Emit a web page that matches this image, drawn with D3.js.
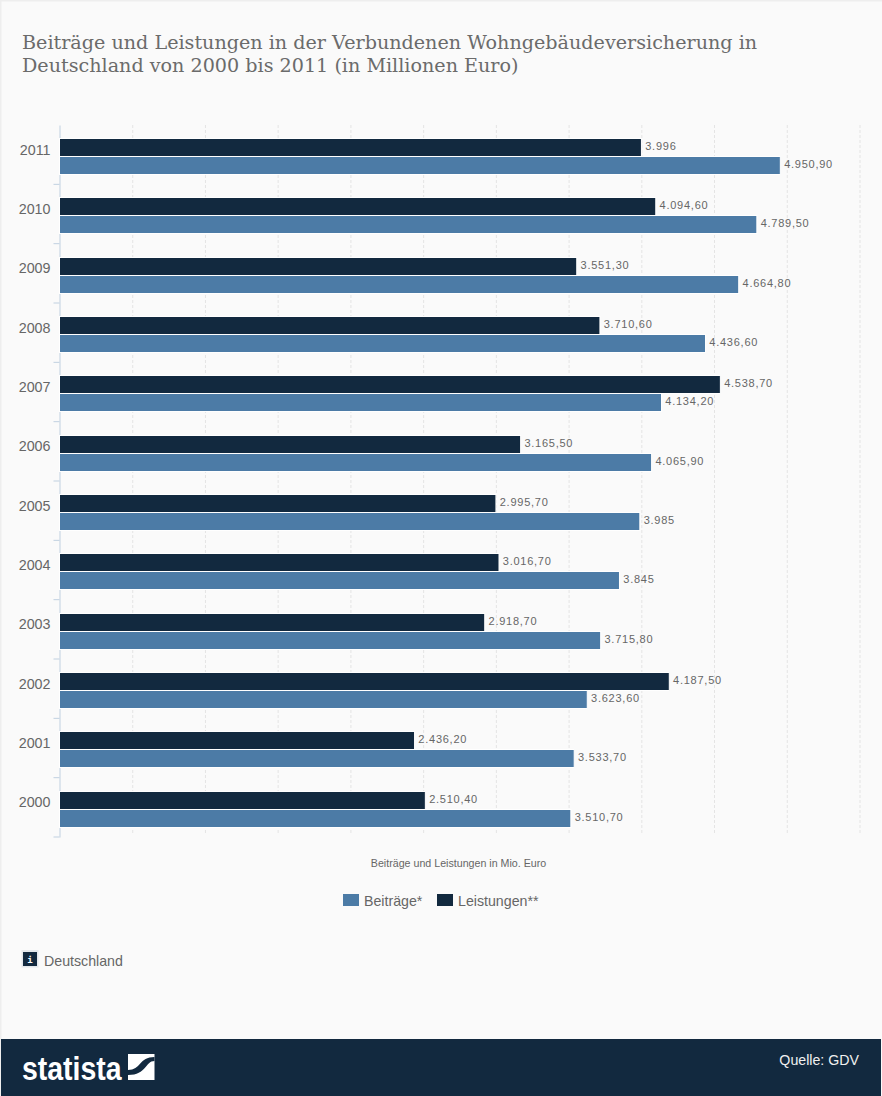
<!DOCTYPE html>
<html>
<head>
<meta charset="utf-8">
<script src="https://cdn.jsdelivr.net/npm/d3@7"></script>
<style>
  html, body { margin: 0; padding: 0; background: #fafafa; }
  svg { display: block; }
</style>
</head>
<body>
<div id="chart"></div>
<script>
const years = ["2011","2010","2009","2008","2007","2006","2005","2004","2003","2002","2001","2000"];
const leistungen = [3996,4094.6,3551.3,3710.6,4538.7,3165.5,2995.7,3016.7,2918.7,4187.5,2436.2,2510.4];
const beitraege = [4950.9,4789.5,4664.8,4436.6,4134.2,4065.9,3985,3845,3715.8,3623.6,3533.7,3510.7];
const seriesNames = ["Leistungen","Beiträge"];
const legendNames = ["Beiträge*","Leistungen**"];
const titleLines = ["Beiträge und Leistungen in der Verbundenen Wohngebäudeversicherung in","Deutschland von 2000 bis 2011 (in Millionen Euro)"];
const gridTicks = [500,1000,1500,2000,2500,3000,3500,4000,4500,5000,5500];

const width = 882, height = 1096;
const margin = {top: 125, left: 59.5, right: 22.5, bottom: 259};
const navy = "#12293f", blue = "#4c7ba6", grey = "#666";
const sans = "'Liberation Sans', Arial, sans-serif";

const color = d3.scaleOrdinal().domain(seriesNames).range([navy, blue]);

const svg = d3.select("#chart").append("svg")
  .attr("width", width)
  .attr("height", height)
  .style("background", "#fafafa");

// thin border on the top and left edge of the page
svg.append("path").attr("d", `M0.5,${height}V0.5H${width}`)
  .attr("fill", "none").attr("stroke", "#eeeeee").attr("stroke-width", 2);

// title
svg.append("g").selectAll("text").data(titleLines).enter().append("text")
  .attr("x", 22)
  .attr("y", (d, i) => 48.5 + i * 23)
  .attr("font-family", "'DejaVu Serif', serif")
  .attr("font-size", 19.15)
  .attr("fill", "#6b6b6b")
  .text(d => d);

const x = d3.scaleLinear().domain([0, 5500]).range([margin.left, width - margin.right]);
const y = d3.scaleBand().domain(years).range([margin.top, height - margin.bottom]);
const inner = d3.scaleBand().domain(seriesNames).range([13.5, 49.5]);

// dashed vertical grid
svg.append("g")
  .attr("transform", `translate(0,${margin.top})`)
  .call(d3.axisBottom(x).tickValues(gridTicks).tickSize(710).tickFormat(""))
  .call(g => g.select(".domain").remove())
  .call(g => g.selectAll("line").attr("stroke", "#e4e4e4").attr("stroke-dasharray", "3,2"));

// left axis, labels sit a little above the band centre, tick marks between the bands
svg.append("g")
  .attr("transform", `translate(${margin.left},0)`)
  .call(d3.axisLeft(y).tickSize(0).tickPadding(9))
  .call(g => g.select(".domain").attr("stroke", "#c0d0e0"))
  .call(g => g.selectAll("text")
    .attr("y", -4.5)
    .attr("font-family", sans)
    .attr("font-size", 14.3)
    .attr("fill", grey));

svg.append("g").selectAll("line")
  .data(years.slice(1).concat(["end"])).enter().append("line")
  .attr("x1", margin.left - 6)
  .attr("x2", margin.left)
  .attr("y1", d => d === "end" ? y.range()[1] : y(d))
  .attr("y2", d => d === "end" ? y.range()[1] : y(d))
  .attr("stroke", "#c0d0e0");

// bars
const rows = [
  {name: seriesNames[0], values: leistungen},
  {name: seriesNames[1], values: beitraege}
];
const fmt = v => {
  const s = Number.isInteger(v) ? String(v) : v.toFixed(2).replace(".", ",");
  return s.replace(/^(\d)(\d{3})/, "$1.$2");
};
const barTop = d => Math.floor(y(d.year) + inner(d.name)) + 0.5;

const groups = svg.selectAll(".series").data(rows).enter().append("g").attr("class", "series");

groups.selectAll("rect")
  .data(r => r.values.map((v, i) => ({name: r.name, year: years[i], value: v})))
  .enter().append("rect")
  .attr("x", x(0))
  .attr("y", barTop)
  .attr("width", d => x(d.value) - x(0) + 0.7)
  .attr("height", inner.bandwidth())
  .attr("fill", d => color(d.name))
  .attr("stroke", "#fff");

groups.selectAll("text")
  .data(r => r.values.map((v, i) => ({name: r.name, year: years[i], value: v})))
  .enter().append("text")
  .attr("x", d => x(d.value) + 4.5)
  .attr("y", d => barTop(d) + inner.bandwidth() / 2 - 1.5)
  .attr("dy", "0.35em")
  .attr("font-family", sans)
  .attr("font-size", 11)
  .attr("letter-spacing", 0.75)
  .attr("fill", grey)
  .text(d => fmt(d.value));

// axis title
svg.append("text")
  .attr("x", 458.5).attr("y", 867)
  .attr("text-anchor", "middle")
  .attr("font-family", sans)
  .attr("font-size", 10.67)
  .attr("fill", grey)
  .text("Beiträge und Leistungen in Mio. Euro");

// legend
const legendX = [343, 437];
const legendColors = [blue, navy];
const legend = svg.append("g").selectAll("g").data(legendNames).enter().append("g")
  .attr("transform", (d, i) => `translate(${legendX[i]},894)`);
legend.append("rect").attr("width", 16).attr("height", 12).attr("fill", (d, i) => legendColors[i]);
legend.append("text")
  .attr("x", 21).attr("y", 12)
  .attr("font-family", sans)
  .attr("font-size", 14.2)
  .attr("fill", grey)
  .text(d => d);

// region note with info icon
svg.append("rect").attr("x", 21.5).attr("y", 950).attr("width", 17).attr("height", 17.5).attr("fill", "#e4e8ec");
svg.append("rect").attr("x", 23).attr("y", 952).attr("width", 14).attr("height", 14).attr("fill", navy);
svg.append("text")
  .attr("x", 30).attr("y", 962.5)
  .attr("text-anchor", "middle")
  .attr("font-family", "'DejaVu Sans Mono', monospace")
  .attr("font-weight", "bold")
  .attr("font-size", 9)
  .attr("fill", "#fff")
  .text("i");
svg.append("text")
  .attr("x", 44).attr("y", 966)
  .attr("font-family", sans)
  .attr("font-size", 14.2)
  .attr("fill", grey)
  .text("Deutschland");

// footer
svg.append("rect").attr("x", 1).attr("y", 1039).attr("width", width - 2).attr("height", 57).attr("fill", navy);
svg.append("text")
  .attr("transform", "translate(22,1080) scale(0.837,1)")
  .attr("font-family", sans)
  .attr("font-weight", "bold")
  .attr("font-size", 34)
  .attr("fill", "#fff")
  .text("statista");
// logo square with the s-curve cut through it
svg.append("rect").attr("x", 128).attr("y", 1054).attr("width", 26.5).attr("height", 26).attr("fill", "#fff");
svg.append("path")
  .attr("d", "M128,1070 C141,1070 139,1057 154.5,1057 V1061 C145,1061 147,1075 128,1075 Z")
  .attr("fill", navy);
svg.append("text")
  .attr("x", 859).attr("y", 1065)
  .attr("text-anchor", "end")
  .attr("font-family", sans)
  .attr("font-size", 14.2)
  .attr("fill", "#f0f0f0")
  .text("Quelle: GDV");
</script>
</body>
</html>
